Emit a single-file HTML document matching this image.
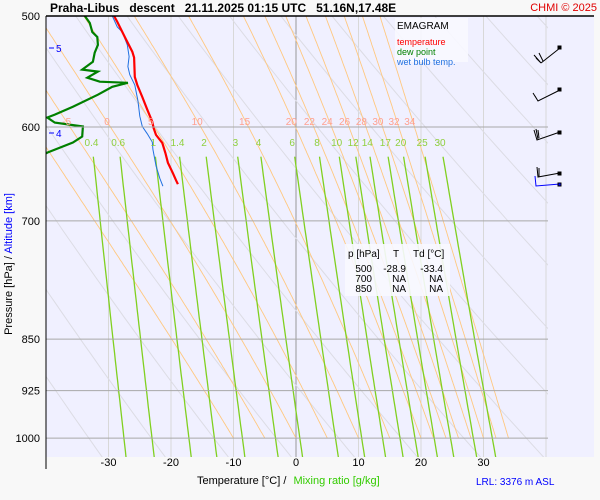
<!DOCTYPE html>
<html><head><meta charset="utf-8"><style>
html,body{margin:0;padding:0;background:#f8f8f8;}
svg{display:block;font-family:"Liberation Sans",sans-serif;}
</style></head><body>
<svg id="c" width="600" height="500" viewBox="0 0 600 500">
<rect x="46" y="16" width="548" height="441" fill="#f0f0ff"/>
<defs><clipPath id="pc"><rect x="46" y="16" width="502" height="441"/></clipPath></defs>
<g id="grid" clip-path="url(#pc)"></g>
<g id="series" clip-path="url(#pc)"></g>
<g id="labels"></g>
<line x1="46" y1="16" x2="594" y2="16" stroke="#000" stroke-width="1.5"/>
<line x1="46" y1="16" x2="46" y2="469" stroke="#000" stroke-width="1"/>
<text x="50" y="12" font-size="12" font-weight="bold" xml:space="preserve">Praha-Libus   descent   21.11.2025 01:15 UTC   51.16N,17.48E</text>
<text x="597" y="11" font-size="11" fill="#e00000" text-anchor="end">CHMI © 2025</text>
<g>
<rect x="395" y="18" width="73" height="44" fill="#f8f8ff" opacity="0.9"/>
<text x="397" y="29" font-size="10">EMAGRAM</text>
<text x="397" y="45" font-size="9" fill="#ff0000">temperature</text>
<text x="397" y="55" font-size="9" fill="#008000">dew point</text>
<text x="397" y="65" font-size="9" fill="#2070e0">wet bulb temp.</text>
</g>
<g font-size="10">
<rect x="345" y="244" width="105" height="52" fill="#f8f8ff" opacity="0.9"/>
<text x="348" y="257">p [hPa]</text><text x="393" y="257">T</text><text x="413" y="257">Td [°C]</text>
<text x="372" y="272" text-anchor="end">500</text><text x="406" y="272" text-anchor="end">-28.9</text><text x="443" y="272" text-anchor="end">-33.4</text>
<text x="372" y="282" text-anchor="end">700</text><text x="406" y="282" text-anchor="end">NA</text><text x="443" y="282" text-anchor="end">NA</text>
<text x="372" y="292" text-anchor="end">850</text><text x="406" y="292" text-anchor="end">NA</text><text x="443" y="292" text-anchor="end">NA</text>
</g>
<text x="8" y="260" font-size="11" transform="rotate(-90 12 260)" text-anchor="middle">Pressure [hPa]  /  <tspan fill="#0000ff">Altitude [km]</tspan></text>
<text x="197" y="484" font-size="11">Temperature [°C]  /  <tspan fill="#33cc00" dx="4">Mixing ratio [g/kg]</tspan></text>
<text x="476" y="485" font-size="10" fill="#0000ff">LRL: 3376 m ASL</text>
<g fill="#0000ff" font-size="10">
<line x1="49" y1="48" x2="54" y2="48" stroke="#0000ff"/><text x="56" y="52">5</text>
<line x1="49" y1="133" x2="54" y2="133" stroke="#0000ff"/><text x="56" y="137">4</text>
</g>
<g stroke="#000" fill="none" stroke-width="1">
<path d="M560 48 L541 63 M541 63 L534 55 M543 61 L539 53 M541 63 L536 58"/><rect x="558" y="46" width="3" height="3" fill="#000"/>
<path d="M560 90 L538 101 L533 93 M538 101 L535 96"/><rect x="558" y="88" width="3" height="3" fill="#000"/>
<path d="M560 132 L537 140 L534 130 M538 139 L536 129 M539 138 L538 130"/><rect x="558" y="131" width="3" height="3" fill="#000"/>
<path d="M560 173 L538 177 L537 167 M539 177 L539 168"/><rect x="558" y="172" width="3" height="3" fill="#000"/>
<path d="M560 184 L536 186 L535 176" stroke="#0000ff"/><rect x="558" y="183" width="3" height="3" fill="#0000ff"/>
</g>
</svg>
<script>
// Data
const tempP = [500,504.9,517.5,530.2,535.3,552.6,560,571.1,583.2,594.9,600.7,607.8,615.8,626.1,636.2,647.2,654.7,659];
const tempT = [-29.1,-28.6,-27.4,-26.2,-25.9,-25.8,-25.4,-24.6,-23.8,-23.0,-22.8,-22.4,-21.4,-20.9,-20.5,-19.7,-19.2,-18.9];
const dewP = [500,505.8,513.3,517.5,524.3,531.1,539,546,547.8,553.3,557,558,561.6,569,580.3,587.9,590.7,595.6,599.5,609.4,615.4,624.7,625.7,630];
const dewT = [-33.8,-33.0,-32.6,-31.8,-31.7,-32.2,-32.5,-34.2,-31.7,-33.4,-31.4,-26.9,-29.4,-31.7,-35.7,-38.6,-39.8,-38.6,-34.1,-34.2,-35.7,-39.4,-39.8,-41];
const wbP = [500,509.1,513.3,524.3,534.5,543.3,550.6,560,574.5,589.4,599.5,606.7,615,622.3,639.3,652.7,661.2];
const wbT = [-29.4,-28.6,-27.8,-27.0,-26.7,-26.9,-26.6,-25.8,-25.3,-25.0,-24.6,-23.8,-23.0,-22.9,-22.4,-21.8,-21.3];
const pressureTicks = [500,600,700,850,925,1000];
const tempTicks = [-30,-20,-10,0,10,20,30];
const moistThetaW = [-10,-5,0,5,10,15,20,22,24,26,28,30,32,34];
const mixRatios = [0.4,0.6,1,1.4,2,3,4,6,8,10,12,14,17,20,25,30];
const dryTheta = [220,230,240,250,260,270,280,290,300,310,320,330,340,350,360,370,380,390,400];

const NS="http://www.w3.org/2000/svg";
const X = t => 296 + 6.25*t;
const Y = p => 16 + 609*Math.log(p/500);
function el(tag, attrs, parent){const e=document.createElementNS(NS,tag);for(const k in attrs)e.setAttribute(k,attrs[k]);parent.appendChild(e);return e;}
const grid=document.getElementById('grid'), series=document.getElementById('series'), labels=document.getElementById('labels');
function pathD(ps,ts){return ps.map((p,i)=>(i?'L':'M')+X(ts[i]).toFixed(1)+' '+Y(p).toFixed(1)).join(' ');}

for(let t=-40;t<=40;t+=10){
  const l=el('line',{x1:X(t),y1:16,x2:X(t),y2:457,stroke:t===0?'#999':'#d8d8d8','stroke-width':1},grid);
  
  
}
for(const th of dryTheta){
  const ps=[],ts=[];
  for(let p=450;p<=1050;p+=10){ps.push(p);ts.push(th*Math.pow(p/1000,0.2857)-273.15);}
  const e=el('path',{d:pathD(ps,ts),fill:'none',stroke:'#dcdce4','stroke-width':1},grid);
  
  
}
function es(t){return 6.112*Math.exp(17.67*t/(t+243.5));}
function rs(t,p){const e=es(t);return 0.622*e/(p-e);}
function moist(tw){
  let T=tw+273.15,p=1000;const ps=[p],ts=[tw];
  while(p>450){
    const dp=-2;const r=rs(T-273.15,p);
    const dT=(287*T+2.5e6*r)/(p*(1004+2.5e6*2.5e6*r*0.622/(287*T*T)))*dp;
    T+=dT;p+=dp;ps.push(p);ts.push(T-273.15);
  }
  return [ps,ts];
}
for(const tw of moistThetaW){
  const [ps,ts]=moist(tw);
  const e=el('path',{d:pathD(ps,ts),fill:'none',stroke:'#ffc880','stroke-width':0.9},grid);
  
  
  if(tw>=-5){
    let idx=ps.findIndex(p=>p<=604);
    const t=el('text',{x:X(ts[idx])-6,y:125,'font-size':10,fill:'#ffa090','text-anchor':'middle'},labels);
    t.textContent=tw;
    
    
  }
}
for(const p of pressureTicks){
  if(p>500){
    const l=el('line',{x1:46,y1:Y(p),x2:548,y2:Y(p),stroke:'#a8a8a8','stroke-width':1},labels);
    
    
  }
  const t=el('text',{x:40,y:Y(p)+4,'font-size':11,'text-anchor':'end'},labels);
  t.textContent=p;
  
  
}
for(const tt of tempTicks){
  const t=el('text',{x:X(tt),y:466,'font-size':11,'text-anchor':'middle'},labels);
  t.textContent=tt;
  
  
}
function tForW(w,p){const e=w/1000*p/(0.622+w/1000);const l=Math.log(e/6.112);return 243.5*l/(17.67-l);}
for(const w of mixRatios){
  const ps=[],ts=[];
  for(let p=630;p<=1050;p+=10){ps.push(p);ts.push(tForW(w,p));}
  const e=el('path',{d:pathD(ps,ts),fill:'none',stroke:'#80d020','stroke-width':1.3},grid);
  
  
  const t=el('text',{x:X(tForW(w,612)),y:146,'font-size':10,fill:'#90d040','text-anchor':'middle'},labels);
  t.textContent=w;
  
  
}
const s1=el('path',{d:pathD(dewP,dewT),fill:'none',stroke:'#008000','stroke-width':2.2},series);


const s2=el('path',{d:pathD(wbP,wbT),fill:'none',stroke:'#2070e0','stroke-width':1},series);


const s3=el('path',{d:pathD(tempP,tempT),fill:'none',stroke:'#ff0000','stroke-width':2.2},series);


</script>
</body></html>
